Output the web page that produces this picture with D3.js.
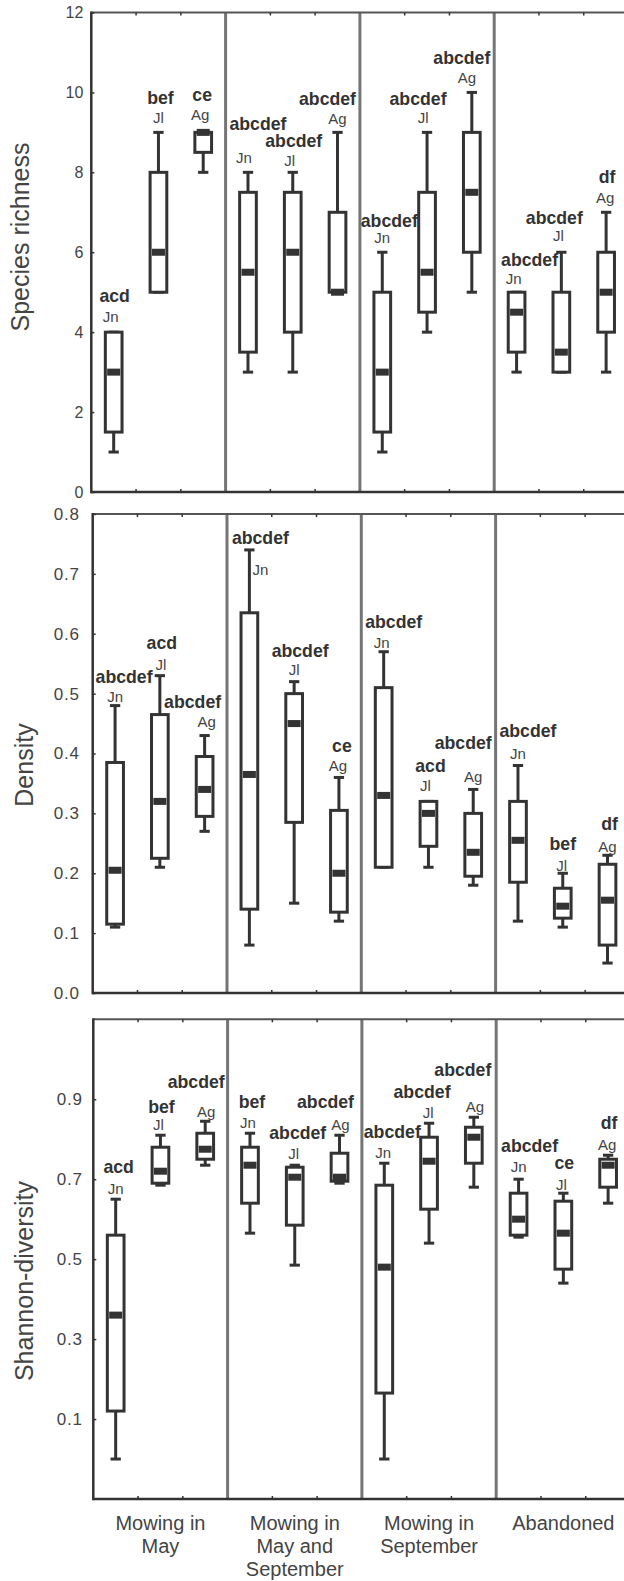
<!DOCTYPE html>
<html>
<head>
<meta charset="utf-8">
<script src="https://cdn.jsdelivr.net/npm/d3@7"></script>
<style>
  body { margin: 0; background: #fff; }
  svg { display: block; font-family: "Liberation Sans", Arial, sans-serif; }
</style>
</head>
<body>
<script>
// treatments along x, three sampling months in each
const treatments = ["Mowing in May", "Mowing in May and September", "Mowing in September", "Abandoned"];
const treatmentLines = [["Mowing in", "May"], ["Mowing in", "May and", "September"], ["Mowing in", "September"], ["Abandoned"]];
const months = ["Jn", "Jl", "Ag"];

// species richness, 12 boxes (treatment-major, Jn/Jl/Ag)
const richMin = [1, 5, 8,   3, 3, 5,   1, 4, 5,    3, 3, 3];
const richQ1  = [1.5, 5, 8.5, 3.5, 4, 5, 1.5, 4.5, 6, 3.5, 3, 4];
const richMed = [3, 6, 9,   5.5, 6, 5, 3, 5.5, 7.5, 4.5, 3.5, 5];
const richQ3  = [4, 8, 9,   7.5, 7.5, 7, 5, 7.5, 9, 5, 5, 6];
const richMax = [4, 9, 9,   8, 8, 9,   6, 9, 10,   5, 6, 7];
const richLetters = ["acd", "bef", "ce", "abcdef", "abcdef", "abcdef", "abcdef", "abcdef", "abcdef", "abcdef", "abcdef", "df"];
const richTicks = [0, 2, 4, 6, 8, 10, 12];

// density
const densMin = [0.11, 0.21, 0.27,   0.08, 0.15, 0.12,   0.21, 0.21, 0.18,   0.12, 0.11, 0.05];
const densQ1  = [0.115, 0.225, 0.295, 0.14, 0.285, 0.135, 0.21, 0.245, 0.195, 0.185, 0.125, 0.08];
const densMed = [0.205, 0.32, 0.34,  0.365, 0.45, 0.2,   0.33, 0.3, 0.235,  0.255, 0.145, 0.155];
const densQ3  = [0.385, 0.465, 0.395, 0.635, 0.5, 0.305, 0.51, 0.32, 0.3,   0.32, 0.175, 0.215];
const densMax = [0.48, 0.53, 0.43,   0.74, 0.52, 0.36,   0.57, 0.32, 0.34,  0.38, 0.2, 0.23];
const densLetters = ["abcdef", "acd", "abcdef", "abcdef", "abcdef", "ce", "abcdef", "acd", "abcdef", "abcdef", "bef", "df"];
const densTicks = [0, 0.1, 0.2, 0.3, 0.4, 0.5, 0.6, 0.7, 0.8];

// shannon diversity
const shanMin = [0, 0.685, 0.735,   0.565, 0.485, 0.69,   0, 0.54, 0.68,     0.555, 0.44, 0.64];
const shanQ1  = [0.12, 0.69, 0.75,  0.64, 0.585, 0.695,   0.165, 0.625, 0.74, 0.56, 0.475, 0.68];
const shanMed = [0.36, 0.72, 0.775, 0.735, 0.705, 0.705,  0.48, 0.745, 0.805, 0.6, 0.565, 0.735];
const shanQ3  = [0.56, 0.78, 0.815, 0.78, 0.73, 0.765,    0.685, 0.805, 0.83, 0.665, 0.645, 0.75];
const shanMax = [0.65, 0.81, 0.845, 0.815, 0.735, 0.81,   0.74, 0.84, 0.855,  0.7, 0.665, 0.76];
const shanLetters = ["acd", "bef", "abcdef", "bef", "abcdef", "abcdef", "abcdef", "abcdef", "abcdef", "abcdef", "ce", "df"];
const shanTicks = [0.1, 0.3, 0.5, 0.7, 0.9];

// label nudges in px from the whisker top: [letters dx, letters dy, month dx, month dy]
const richPlace = [[1,-37,-3,-16],[2,-35,0,-15],[-1,-38,-3,-18],[10,-49,-4,-15],[1,-32,-3,-12],[-10,-34,0,-14],
                   [7,-32,0,-15],[-9,-34,-4,-15],[-10,-35,-5,-15],[13,-33,-3,-14],[-7,-35,-3,-17],[1,-36,-1,-15]];
const densPlace = [[9,-29,0,-9],[2,-33,1,-11],[-12,-34,2,-14],[11,-12,11,20],[6,-31,0,-12],[3,-32,-1,-12],
                   [10,-30,-2,-9],[2,-36,-3,-16],[-10,-47,0,-13],[10,-35,0,-12],[0,-30,-1,-8],[2,-32,0,-9]];
const shanPlace = [[3,-33,0,-11],[1,-29,-2,-11],[-9,-40,1,-10],[2,-32,-2,-11],[3,-33,-1,-12],[-14,-34,1,-11],
                   [8,-32,-1,-11],[-7,-32,-1,-11],[-11,-48,1,-11],[11,-34,0,-13],[1,-31,-2,-9],[1,-33,-1,-11]];

const W = 624, H = 1581;
const groupW = 134.3;
const ink = "#333";

const panels = [
  { title: "Species richness", min: richMin, q1: richQ1, med: richMed, q3: richQ3, max: richMax,
    letters: richLetters, place: richPlace, ticks: richTicks, fmt: d3.format("d"), tickSize: 16, tickSpace: 0,
    domain: [0, 12], top: 12.5, bottom: 492, left: 91.3, pad: 8, titleX: 29, titleY: 237 },
  { title: "Density", min: densMin, q1: densQ1, med: densMed, q3: densQ3, max: densMax,
    letters: densLetters, place: densPlace, ticks: densTicks, fmt: d3.format(".1f"), tickSize: 17, tickSpace: 0.8,
    domain: [0, 0.8], top: 514, bottom: 993, left: 92.7, pad: 13, titleX: 33, titleY: 765 },
  { title: "Shannon-diversity", min: shanMin, q1: shanQ1, med: shanMed, q3: shanQ3, max: shanMax,
    letters: shanLetters, place: shanPlace, ticks: shanTicks, fmt: d3.format(".1f"), tickSize: 17, tickSpace: 0.8,
    domain: [-0.1, 1.1], top: 1019.3, bottom: 1499, left: 93.3, pad: 10.5, titleX: 33, titleY: 1281 }
];

const svg = d3.select("body").append("svg")
    .attr("width", W)
    .attr("height", H);

panels.forEach((p, pi) => {
  const g = svg.append("g").attr("class", "panel");

  const x = d3.scaleBand().domain(treatments).range([p.left, p.left + groupW * treatments.length]);
  const xm = d3.scaleBand().domain(months).range([0, x.bandwidth()]);
  const y = d3.scaleLinear().domain(p.domain).range([p.bottom, p.top]);

  const boxes = d3.cross(treatments, months, (t, m) => ({t, m}))
    .map((d, i) => ({
      ...d,
      cx: x(d.t) + xm(d.m) + xm.bandwidth() / 2,
      min: p.min[i], q1: p.q1[i], med: p.med[i], q3: p.q3[i], max: p.max[i],
      letters: p.letters[i], place: p.place[i]
    }));

  // group dividers
  g.selectAll("line.divider")
    .data(treatments.slice(1))
    .enter().append("line")
    .attr("class", "divider")
    .attr("x1", d => x(d)).attr("x2", d => x(d))
    .attr("y1", p.top).attr("y2", p.bottom)
    .attr("stroke", "#757575")
    .attr("stroke-width", 3);

  // top and bottom frame
  g.append("line")
    .attr("x1", p.left).attr("x2", W + 10)
    .attr("y1", p.top).attr("y2", p.top)
    .attr("stroke", "#555").attr("stroke-width", 2);
  g.append("line")
    .attr("x1", p.left).attr("x2", W + 10)
    .attr("y1", p.bottom).attr("y2", p.bottom)
    .attr("stroke", ink).attr("stroke-width", 2.5);

  // small x ticks between months
  const xt = [];
  treatments.forEach(t => { xt.push(x(t) + xm.step()); xt.push(x(t) + 2 * xm.step()); });
  [p.top, p.bottom].forEach((yy, k) => {
    g.selectAll(null).data(xt).enter().append("line")
      .attr("x1", d => d).attr("x2", d => d)
      .attr("y1", yy).attr("y2", k === 0 ? yy + 3 : yy - 3)
      .attr("stroke", ink).attr("stroke-width", 1.5);
  });

  // y axis
  g.append("g")
    .attr("transform", `translate(${p.left},0)`)
    .call(d3.axisLeft(y).tickValues(p.ticks).tickFormat(p.fmt).tickSizeInner(-3).tickSizeOuter(0).tickPadding(p.pad))
    .call(a => a.select(".domain").remove())
    .call(a => a.selectAll(".tick line").attr("stroke", ink).attr("stroke-width", 1.5))
    .call(a => a.selectAll(".tick text")
      .attr("font-family", "Liberation Sans, Arial, sans-serif")
      .attr("font-size", p.tickSize)
      .attr("letter-spacing", p.tickSpace)
      .attr("fill", "#444"));

  g.append("line")
    .attr("x1", p.left).attr("x2", p.left)
    .attr("y1", p.top - 1).attr("y2", p.bottom + 1.2)
    .attr("stroke", ink).attr("stroke-width", 2.5);

  g.append("text")
    .attr("transform", `translate(${p.titleX},${p.titleY}) rotate(-90)`)
    .attr("text-anchor", "middle")
    .attr("font-size", 25)
    .attr("fill", "#444")
    .text(p.title);

  // boxes
  const bw = 16.7, cw = 10.3, mw = 13, mh = 7;
  const bx = g.selectAll("g.box")
    .data(boxes)
    .enter().append("g")
    .attr("class", "box");

  bx.append("line")
    .attr("x1", d => d.cx).attr("x2", d => d.cx)
    .attr("y1", d => y(d.min)).attr("y2", d => y(d.max))
    .attr("stroke", ink).attr("stroke-width", 3);
  bx.selectAll("line.cap")
    .data(d => [d.min, d.max].map(v => ({cx: d.cx, v})))
    .enter().append("line")
    .attr("class", "cap")
    .attr("x1", d => d.cx - cw / 2).attr("x2", d => d.cx + cw / 2)
    .attr("y1", d => y(d.v)).attr("y2", d => y(d.v))
    .attr("stroke", ink).attr("stroke-width", 3);
  bx.append("rect")
    .attr("x", d => d.cx - bw / 2)
    .attr("width", bw)
    .attr("y", d => y(d.q3))
    .attr("height", d => Math.max(0.1, y(d.q1) - y(d.q3)))
    .attr("fill", "#fff")
    .attr("stroke", ink).attr("stroke-width", 3);
  bx.append("rect")
    .attr("x", d => d.cx - mw / 2)
    .attr("width", mw)
    .attr("y", d => y(d.med) - mh / 2)
    .attr("height", mh)
    .attr("fill", ink);

  // significance letters and month labels
  bx.append("text")
    .attr("x", d => d.cx + d.place[0])
    .attr("y", d => y(d.max) + d.place[1])
    .attr("dy", "0.36em")
    .attr("text-anchor", "middle")
    .attr("font-size", 17.7)
    .attr("font-weight", "bold")
    .attr("fill", ink)
    .text(d => d.letters);
  bx.append("text")
    .attr("x", d => d.cx + d.place[2])
    .attr("y", d => y(d.max) + d.place[3])
    .attr("dy", "0.36em")
    .attr("text-anchor", "middle")
    .attr("font-size", 15)
    .attr("fill", "#444")
    .text(d => d.m);

  // treatment labels under the last panel
  if (pi === panels.length - 1) {
    const lab = g.selectAll("text.treat")
      .data(treatments)
      .enter().append("text")
      .attr("class", "treat")
      .attr("text-anchor", "middle")
      .attr("font-size", 20)
      .attr("fill", "#444");
    lab.selectAll("tspan")
      .data((d, i) => treatmentLines[i].map(s => ({s, cx: x(d) + x.bandwidth() / 2})))
      .enter().append("tspan")
      .attr("x", d => d.cx)
      .attr("y", (d, j) => 1530 + j * 23)
      .text(d => d.s);
  }
});
</script>
</body>
</html>
